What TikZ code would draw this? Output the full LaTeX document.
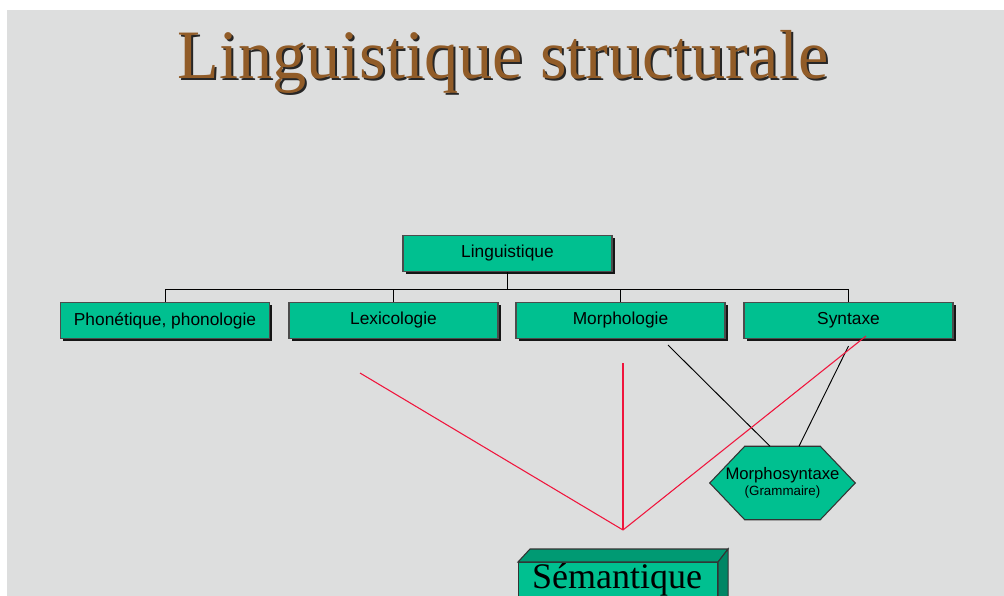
\documentclass[tikz,border=0pt]{standalone}
\usepackage{fontspec}
\setmainfont{Liberation Serif}
\setsansfont{Liberation Sans}
\usetikzlibrary{calc,shadows,backgrounds}
\definecolor{marble}{RGB}{221,222,222}
\definecolor{boxgreen}{RGB}{0,192,144}
\definecolor{titlebrown}{RGB}{145,92,40}
\definecolor{linkred}{RGB}{240,20,60}
\newcommand{\shadowtext}[1]{\rlap{\color{black!85}\hspace{1.5pt}\raisebox{-1.5pt}{#1}}#1}
\tikzset{
  branch/.style={draw=black!70, line width=0.8pt, fill=boxgreen,
    minimum width=156.75pt, minimum height=27pt, inner sep=0pt,
    font=\sffamily\fontsize{13}{15}\selectfont,
    drop shadow={shadow xshift=2.2pt, shadow yshift=-2.2pt, fill=black, opacity=0.9}},
  facet/.style={draw=black!80, line width=0.8pt},
  link/.style={line width=0.7pt, black},
  redlink/.style={line width=0.8pt, linkred},
}
\begin{document}
\begin{tikzpicture}[x=0.75pt, y=-0.75pt]
\useasboundingbox (0,0) rectangle (1004,596);
\clip (0,0) rectangle (1004,596);
\begin{scope}[on background layer]
\fill[marble] (7,10) rectangle (1004,596);
\end{scope}
% title
\node[titlebrown, font=\fontsize{52}{60}\selectfont, xscale=0.985] (title) at (503,63) {\shadowtext{Linguistique structurale}};
% tree
\node[branch] (ling) at (507.5,253.5) {Linguistique};
\node[branch] (phon) at (165,320.5) {Phon\'etique, phonologie};
\node[branch] (lex) at (393.5,320.5) {Lexicologie};
\node[branch] (morph) at (620.5,320.5) {Morphologie};
\node[branch] (synt) at (848.5,320.5) {Syntaxe};
\coordinate (bus) at ($(ling.south)+(0,17)$);
\draw[link] (ling.south) -- (bus);
\foreach \n in {phon,lex,morph,synt}
  \draw[link] (bus) -| (\n.north);
% morphosyntax
\node[minimum width=56.25pt, minimum height=54.75pt, inner sep=0pt, align=center,
  font=\sffamily\fontsize{12.5}{13}\selectfont] (msynt) at (782.5,483)
  {\makebox[0pt]{Morphosyntaxe}\\[-1pt]\makebox[0pt]{\fontsize{10}{11}\selectfont(Grammaire)}};
\begin{scope}[on background layer]
\filldraw[facet, fill=boxgreen] (msynt.north west) -- (msynt.north east) -- ($(msynt.east)+(35,0)$)
  -- (msynt.south east) -- (msynt.south west) -- ($(msynt.west)+(-35,0)$) -- cycle;
\end{scope}
\draw[link] ($(morph.south)+(47.5,6)$) -- ($(msynt.north)+(-12.5,0)$);
\draw[link] ($(synt.south)+(0,7)$) -- ($(msynt.north)+(16.5,0)$);
% semantics
\node[facet, fill=boxgreen, minimum width=149.25pt, minimum height=36pt,
  inner sep=0pt, anchor=north west] (sem) at (518,562) {};
\node[anchor=base, font=\fontsize{27}{30}\selectfont] (semtxt) at ($(sem.north)+(-1,26)$) {S\'emantique};
\filldraw[facet, fill=boxgreen!80!black]
  (sem.north west) -- ++(12,-13) -- ($(sem.north east)+(10,-13)$) -- (sem.north east) -- cycle;
\filldraw[facet, fill=boxgreen!70!black]
  (sem.north east) -- ++(10,-13) -- ($(sem.south east)+(10,-13)$) -- (sem.south east) -- cycle;
\coordinate (apex) at (623,530);
\coordinate (fromlex) at (360,373);
\coordinate (frommorph) at (623,363);
\draw[redlink] (fromlex) -- (apex);
\draw[redlink] (frommorph) -- (apex);
\draw[redlink] ($(synt.south)+(17.5,-3)$) -- (apex);
\end{tikzpicture}
\end{document}
